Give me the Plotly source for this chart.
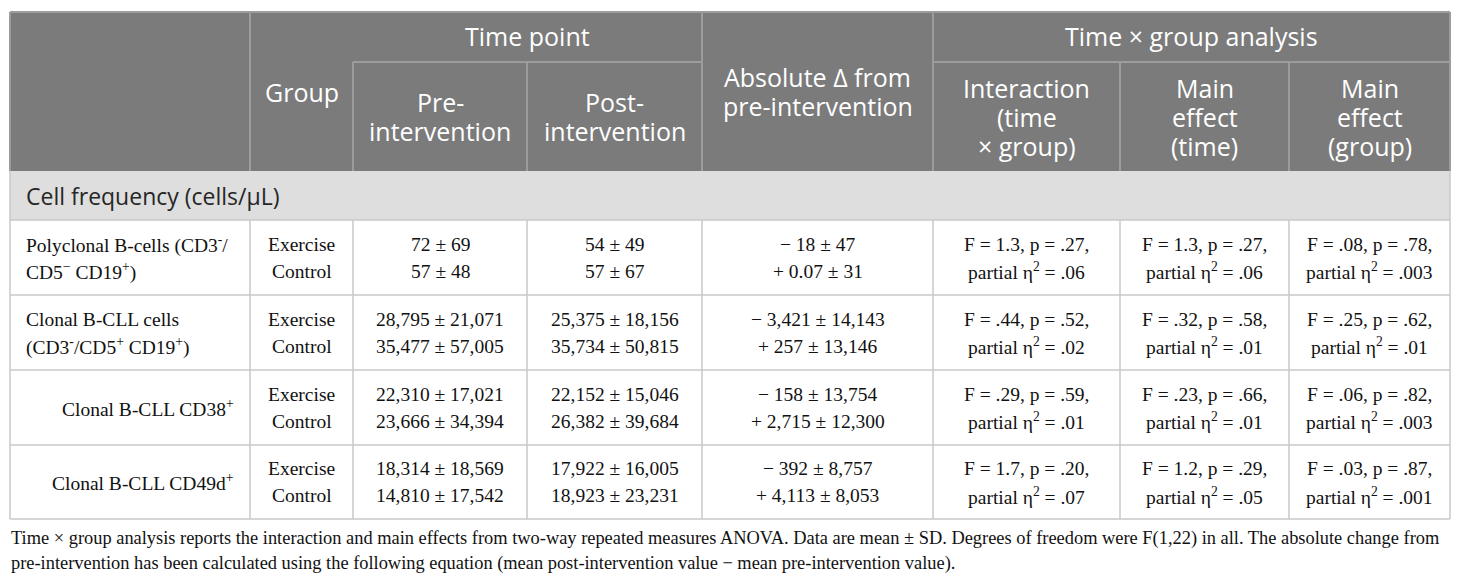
import plotly.graph_objects as go

# ---- data ----
row_labels = [
    ["Polyclonal B-cells (CD3<sup>-</sup>/", "CD5<sup>\u2212</sup> CD19<sup>+</sup>)"],
    ["Clonal B-CLL cells", "(CD3<sup>-</sup>/CD5<sup>+</sup> CD19<sup>+</sup>)"],
    ["Clonal B-CLL CD38<sup>+</sup>"],
    ["Clonal B-CLL CD49d<sup>+</sup>"],
]
groups = ["Exercise", "Control"]

pre_mean = [[72, 57], [28795, 35477], [22310, 23666], [18314, 14810]]
pre_sd = [[69, 48], [21071, 57005], [17021, 34394], [18569, 17542]]
post_mean = [[54, 57], [25375, 35734], [22152, 26382], [17922, 18923]]
post_sd = [[49, 67], [18156, 50815], [15046, 39684], [16005, 23231]]
delta_mean = [[-18, 0.07], [-3421, 257], [-158, 2715], [-392, 4113]]
delta_sd = [[47, 31], [14143, 13146], [13754, 12300], [8757, 8053]]

# F, p, partial eta^2  (interaction, main time, main group)
inter_F = ["1.3", ".44", ".29", "1.7"]
inter_p = [".27", ".52", ".59", ".20"]
inter_eta = [".06", ".02", ".01", ".07"]
time_F = ["1.3", ".32", ".23", "1.2"]
time_p = [".27", ".58", ".66", ".29"]
time_eta = [".06", ".01", ".01", ".05"]
group_F = [".08", ".25", ".06", ".03"]
group_p = [".78", ".62", ".82", ".87"]
group_eta = [".003", ".01", ".003", ".001"]

section_title = "Cell frequency (cells/\u03bcL)"
top_headers = ["Time point", "Time \u00d7 group analysis"]
sub_headers = [
    ["Group"],
    ["Pre-", "intervention"],
    ["Post-", "intervention"],
    ["Absolute \u0394 from", "pre-intervention"],
    ["Interaction", "(time", "\u00d7 group)"],
    ["Main", "effect", "(time)"],
    ["Main", "effect", "(group)"],
]
footnote = [
    "Time \u00d7 group analysis reports the interaction and main effects from two-way repeated measures ANOVA. "
    "Data are mean \u00b1 SD. Degrees of freedom were F(1,22) in all. The absolute change from",
    "pre-intervention has been calculated using the following equation (mean post-intervention value \u2212 mean pre-intervention value).",
]

# ---- layout geometry (pixels) ----
W, H = 1460, 584
col_edges = [10, 250, 353, 527, 702, 933, 1120, 1289, 1450]
head_top, head_mid, head_bot = 12, 62, 171
sect_bot = 220
row_edges = [220, 295, 370, 445, 519]
foot_y = [538, 563]

HEAD_BG = "#7b7b7b"
HEAD_LINE = "#9c9c9c"
SECT_BG = "#dedede"
GRID = "#c8c8c8"
TXT = "#111111"
SANS = "Open Sans"
SERIF = "Liberation Serif"
HEAD_SIZE = 25
BODY_SIZE = 19.5


def fmt(v):
    if float(v).is_integer():
        return f"{int(v):,}"
    return f"{v}"


def delta_str(m, s):
    sign = "\u2212" if m < 0 else "+"
    return f"{sign} {fmt(abs(m))} \u00b1 {fmt(s)}"


def stat_lines(F, p, eta):
    return [f"F = {F}, p = {p},", f"partial \u03b7<sup>2</sup> = {eta}"]


fig = go.Figure()
shapes = []
annotations = []


def rect(x0, x1, y0, y1, fill):
    shapes.append(dict(type="rect", xref="x", yref="y", x0=x0, x1=x1, y0=y0, y1=y1,
                       fillcolor=fill, line=dict(width=0), layer="below"))


def line(x0, x1, y0, y1, color, width=1):
    shapes.append(dict(type="line", xref="x", yref="y", x0=x0, x1=x1, y0=y0, y1=y1,
                       line=dict(color=color, width=width)))


def text(x, y, s, size, color, family, align="center"):
    annotations.append(dict(x=x, y=y, xref="x", yref="y", text=s, showarrow=False,
                            xanchor=align, yanchor="middle", borderpad=0,
                            font=dict(size=size, color=color, family=family)))


def lines_block(x, yc, lines, gap, size, color, family, align="center"):
    n = len(lines)
    for i, s in enumerate(lines):
        text(x, yc + (i - (n - 1) / 2) * gap, s, size, color, family, align)


L, R = col_edges[0], col_edges[-1]
mid = [(col_edges[i] + col_edges[i + 1]) / 2 for i in range(len(col_edges) - 1)]

# header
rect(L, R, head_top, head_bot, HEAD_BG)
line(col_edges[2], col_edges[4], head_mid, head_mid, HEAD_LINE, 2)
line(col_edges[5], R, head_mid, head_mid, HEAD_LINE, 2)
for i, x in enumerate(col_edges):
    if i in (0, 1, 4, 5, 8):
        line(x, x, head_top, head_bot, HEAD_LINE, 2)
    else:
        line(x, x, head_mid, head_bot, HEAD_LINE, 2)
line(L, R, head_top, head_top, HEAD_LINE, 2)

text((col_edges[2] + col_edges[4]) / 2, (head_top + head_mid) / 2 - 1, top_headers[0],
     HEAD_SIZE, "white", SANS)
text((col_edges[5] + R) / 2, (head_top + head_mid) / 2 - 1, top_headers[1],
     HEAD_SIZE, "white", SANS)
full_span = [0, 3]  # sub header indices spanning the whole header height
for j, lines in enumerate(sub_headers):
    yc = (head_top + head_bot) / 2 if j in full_span else (head_mid + head_bot) / 2
    lines_block(mid[j + 1], yc, lines, 29, HEAD_SIZE, "white", SANS)

# section row
rect(L, R, head_bot, sect_bot, SECT_BG)
text(L + 15, (head_bot + sect_bot) / 2, section_title, 23, "#262626", SANS, "left")
line(L, L, head_bot, sect_bot, GRID, 1.5)
line(R, R, head_bot, sect_bot, GRID, 1.5)

# body grid
for y in row_edges:
    line(L, R, y, y, GRID, 1.5)
for x in col_edges:
    line(x, x, row_edges[0], row_edges[-1], GRID, 1.5)

# body text
GAP = 27
for r in range(len(row_labels)):
    yc = (row_edges[r] + row_edges[r + 1]) / 2
    if len(row_labels[r]) > 1:
        lines_block(L + 15, yc, row_labels[r], GAP, BODY_SIZE, TXT, SERIF, "left")
    else:
        text(col_edges[1] - 15, yc, row_labels[r][0], BODY_SIZE, TXT, SERIF, "right")
    lines_block(mid[1], yc, groups, GAP, BODY_SIZE, TXT, SERIF)
    lines_block(mid[2], yc, [f"{fmt(pre_mean[r][k])} \u00b1 {fmt(pre_sd[r][k])}" for k in range(2)],
                GAP, BODY_SIZE, TXT, SERIF)
    lines_block(mid[3], yc, [f"{fmt(post_mean[r][k])} \u00b1 {fmt(post_sd[r][k])}" for k in range(2)],
                GAP, BODY_SIZE, TXT, SERIF)
    lines_block(mid[4], yc, [delta_str(delta_mean[r][k], delta_sd[r][k]) for k in range(2)],
                GAP, BODY_SIZE, TXT, SERIF)
    lines_block(mid[5], yc, stat_lines(inter_F[r], inter_p[r], inter_eta[r]), GAP, BODY_SIZE, TXT, SERIF)
    lines_block(mid[6], yc, stat_lines(time_F[r], time_p[r], time_eta[r]), GAP, BODY_SIZE, TXT, SERIF)
    lines_block(mid[7], yc, stat_lines(group_F[r], group_p[r], group_eta[r]), GAP, BODY_SIZE, TXT, SERIF)

# footnote
for s, y in zip(footnote, foot_y):
    text(L, y, s, 18.4, TXT, SERIF, "left")

fig.update_layout(
    width=W,
    height=H,
    margin=dict(l=0, r=0, t=0, b=0),
    paper_bgcolor="white",
    plot_bgcolor="white",
    shapes=shapes,
    annotations=annotations,
    showlegend=False,
)
fig.update_xaxes(range=[0, W], visible=False, fixedrange=True)
fig.update_yaxes(range=[H, 0], visible=False, fixedrange=True)

fig.write_html("out.html", config={"displayModeBar": False},
               post_script="document.body.style.margin='0';")
